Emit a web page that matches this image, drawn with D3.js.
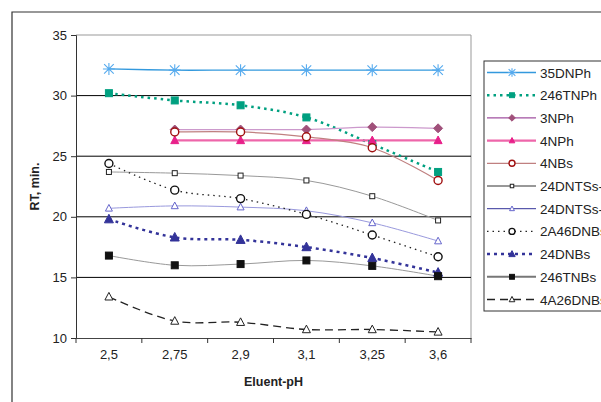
<!DOCTYPE html>
<html>
<head>
<meta charset="utf-8">
<script src="https://cdn.jsdelivr.net/npm/d3@7"></script>
<style>
  body { margin: 0; background: #fff; }
  text { font-family: "Liberation Sans", Arial, sans-serif; }
</style>
</head>
<body>
<div id="chart"></div>
<script>
const phLabels = ["2,5", "2,75", "2,9", "3,1", "3,25", "3,6"];
const yTicks = [10, 15, 20, 25, 30, 35];

const s35DNPh = [32.2, 32.1, 32.1, 32.1, 32.1, 32.1];
const s246TNPh = [30.2, 29.6, 29.2, 28.2, 26.0, 23.7];
const s3NPh = [null, 27.2, 27.2, 27.2, 27.4, 27.3];
const s4NPh = [null, 26.3, 26.3, 26.3, 26.3, 26.3];
const s4NBs = [null, 27.0, 27.0, 26.6, 25.7, 23.0];
const s24DNTSsA = [23.7, 23.6, 23.4, 23.0, 21.7, 19.7];
const s24DNTSsB = [20.7, 20.9, 20.8, 20.5, 19.5, 18.0];
const s2A46DNBs = [24.4, 22.2, 21.5, 20.2, 18.5, 16.7];
const s24DNBs = [19.8, 18.3, 18.1, 17.5, 16.6, 15.4];
const s246TNBs = [16.8, 16.0, 16.1, 16.4, 15.95, 15.1];
const s4A26DNBs = [13.4, 11.4, 11.3, 10.7, 10.7, 10.5];

const series = [
  { name: "35DNPh", values: s35DNPh, line: "#3399dd", lw: 1.3, dash: null, marker: "asterisk", mc: "#55aaee", fill: "none" },
  { name: "246TNPh", values: s246TNPh, line: "#00a080", lw: 2.5, dash: "2.5,4", marker: "square", mc: "#00a080", fill: "#00a080", size: 7 },
  { name: "3NPh", values: s3NPh, line: "#cc99cc", lw: 1.3, dash: null, marker: "diamond", mc: "#a0507a", fill: "#a0507a", size: 8, legLine: "#a050a0" },
  { name: "4NPh", values: s4NPh, line: "#ee66aa", lw: 2.2, dash: null, marker: "triangle", mc: "#e8208a", fill: "#e8208a", size: 8 },
  { name: "4NBs", values: s4NBs, line: "#c08080", lw: 1.2, dash: null, marker: "circle", mc: "#a01010", fill: "#fff", size: 4 },
  { name: "24DNTSs-", values: s24DNTSsA, line: "#999999", lw: 1, dash: null, marker: "square", mc: "#222", fill: "#fff", size: 5, legLine: "#333" },
  { name: "24DNTSs-", values: s24DNTSsB, line: "#9999dd", lw: 1, dash: null, marker: "triangle", mc: "#6666cc", fill: "#fff", size: 7, legLine: "#333399" },
  { name: "2A46DNBs", values: s2A46DNBs, line: "#222", lw: 1.3, dash: "1.5,4", marker: "circle", mc: "#111", fill: "#fff", size: 4 },
  { name: "24DNBs", values: s24DNBs, line: "#333399", lw: 2.5, dash: "3,4", marker: "triangle", mc: "#333399", fill: "#333399", size: 9 },
  { name: "246TNBs", values: s246TNBs, line: "#999999", lw: 1, dash: null, marker: "square", mc: "#111", fill: "#111", size: 7, legLine: "#777", legLw: 2 },
  { name: "4A26DNBs", values: s4A26DNBs, line: "#222", lw: 1.3, dash: "8,5", marker: "triangle", mc: "#222", fill: "#fff", size: 8 }
];

const W = 601, H = 402;
const plot = { left: 76, top: 35, right: 471, bottom: 338 };

const svg = d3.select("#chart").append("svg")
  .attr("width", W).attr("height", H);

// outer frame
svg.append("path")
  .attr("d", `M12,${H + 2}V12H${W + 2}`)
  .attr("fill", "none").attr("stroke", "#333").attr("stroke-width", 1.2);

const x = d3.scaleBand().domain(phLabels).range([plot.left, plot.right]).padding(0);
const y = d3.scaleLinear().domain([10, 35]).range([plot.bottom, plot.top]);
const cx = (i) => x(phLabels[i]) + x.bandwidth() / 2;

// plot border (top / right)
svg.append("path")
  .attr("d", `M${plot.left},${plot.top}H${plot.right}V${plot.bottom}`)
  .attr("fill", "none").attr("stroke", "#999").attr("stroke-width", 1);

// gridlines
svg.append("g").selectAll("line")
  .data(yTicks.filter((t) => t > 10 && t < 35))
  .join("line")
  .attr("x1", plot.left).attr("x2", plot.right)
  .attr("y1", (d) => y(d)).attr("y2", (d) => y(d))
  .attr("stroke", "#000").attr("stroke-width", 1);

// y axis
const yAxis = svg.append("g")
  .attr("transform", `translate(${plot.left},0)`)
  .call(d3.axisLeft(y).tickValues(yTicks).tickSize(5).tickPadding(4));
yAxis.select(".domain").attr("stroke", "#333");
yAxis.selectAll(".tick line").attr("stroke", "#333");
yAxis.selectAll("text").attr("font-size", 13).attr("fill", "#222")
  .style("font-family", "Liberation Sans, Arial, sans-serif");

// x axis
const xAxis = svg.append("g")
  .attr("transform", `translate(0,${plot.bottom})`)
  .call(d3.axisBottom(x).tickSize(0).tickPadding(12));
xAxis.select(".domain").attr("stroke", "#444");
xAxis.selectAll("text").attr("font-size", 13).attr("fill", "#222")
  .style("font-family", "Liberation Sans, Arial, sans-serif");
svg.append("g").selectAll("line")
  .data(d3.range(phLabels.length + 1))
  .join("line")
  .attr("x1", (i) => plot.left + i * x.bandwidth())
  .attr("x2", (i) => plot.left + i * x.bandwidth())
  .attr("y1", plot.bottom).attr("y2", plot.bottom + 5)
  .attr("stroke", "#333");

// axis titles
svg.append("text")
  .attr("x", (plot.left + plot.right) / 2).attr("y", 386)
  .attr("text-anchor", "middle").attr("font-size", 12.5).attr("font-weight", "bold")
  .attr("fill", "#222").text("Eluent-pH");
svg.append("text")
  .attr("transform", `translate(39,${(plot.top + plot.bottom) / 2}) rotate(-90)`)
  .attr("text-anchor", "middle").attr("font-size", 12.5).attr("font-weight", "bold")
  .attr("fill", "#222").text("RT, min.");

function drawMarker(g, s, px, py, scale) {
  const k = scale || 1;
  const sz = (s.size || 8) * k;
  if (s.marker === "asterisk") {
    const r = 6 * k;
    const p = `M${px - r},${py}H${px + r}M${px},${py - r}V${py + r}` +
      `M${px - r * 0.8},${py - r * 0.8}L${px + r * 0.8},${py + r * 0.8}` +
      `M${px - r * 0.8},${py + r * 0.8}L${px + r * 0.8},${py - r * 0.8}`;
    g.append("path").attr("d", p).attr("stroke", s.mc).attr("stroke-width", 1.1).attr("fill", "none");
  } else if (s.marker === "square") {
    g.append("rect").attr("x", px - sz / 2).attr("y", py - sz / 2)
      .attr("width", sz).attr("height", sz)
      .attr("fill", s.fill).attr("stroke", s.mc).attr("stroke-width", 1);
  } else if (s.marker === "diamond") {
    const r = sz / 2 + 0.5;
    g.append("path").attr("d", `M${px},${py - r}L${px + r},${py}L${px},${py + r}L${px - r},${py}Z`)
      .attr("fill", s.fill).attr("stroke", s.mc);
  } else if (s.marker === "triangle") {
    const r = sz / 2;
    g.append("path").attr("d", `M${px},${py - r * 1.1}L${px + r},${py + r * 0.8}L${px - r},${py + r * 0.8}Z`)
      .attr("fill", s.fill).attr("stroke", s.mc).attr("stroke-width", 1);
  } else if (s.marker === "circle") {
    g.append("circle").attr("cx", px).attr("cy", py).attr("r", sz)
      .attr("fill", s.fill).attr("stroke", s.mc).attr("stroke-width", 1.4);
  }
}

const line = d3.line()
  .defined((d) => d != null)
  .x((d, i) => cx(i))
  .y((d) => y(d))
  .curve(d3.curveCatmullRom.alpha(0.5));

const gSeries = svg.append("g");
series.forEach((s) => {
  gSeries.append("path")
    .datum(s.values)
    .attr("d", line)
    .attr("fill", "none")
    .attr("stroke", s.line)
    .attr("stroke-width", s.lw)
    .attr("stroke-dasharray", s.dash);
});
series.forEach((s) => {
  const g = gSeries.append("g");
  s.values.forEach((v, i) => {
    if (v != null) drawMarker(g, s, cx(i), y(v));
  });
});

// legend
const leg = svg.append("g");
leg.append("rect")
  .attr("x", 484).attr("y", 61).attr("width", 140).attr("height", 250)
  .attr("fill", "#fff").attr("stroke", "#333").attr("stroke-width", 1);
const rowY = d3.scaleLinear().domain([0, series.length - 1]).range([72.5, 299.5]);
series.forEach((s, i) => {
  const ly = rowY(i);
  leg.append("line")
    .attr("x1", 487).attr("x2", 536).attr("y1", ly).attr("y2", ly)
    .attr("stroke", s.legLine || s.line)
    .attr("stroke-width", s.legLw || s.lw)
    .attr("stroke-dasharray", s.dash);
  const g = leg.append("g");
  drawMarker(g, s, 512, ly, s.marker === "circle" ? 0.75 : 0.7);
  leg.append("text")
    .attr("x", 540).attr("y", ly + 5)
    .attr("font-size", 13.5).attr("fill", "#222")
    .text(s.name);
});
</script>
</body>
</html>
